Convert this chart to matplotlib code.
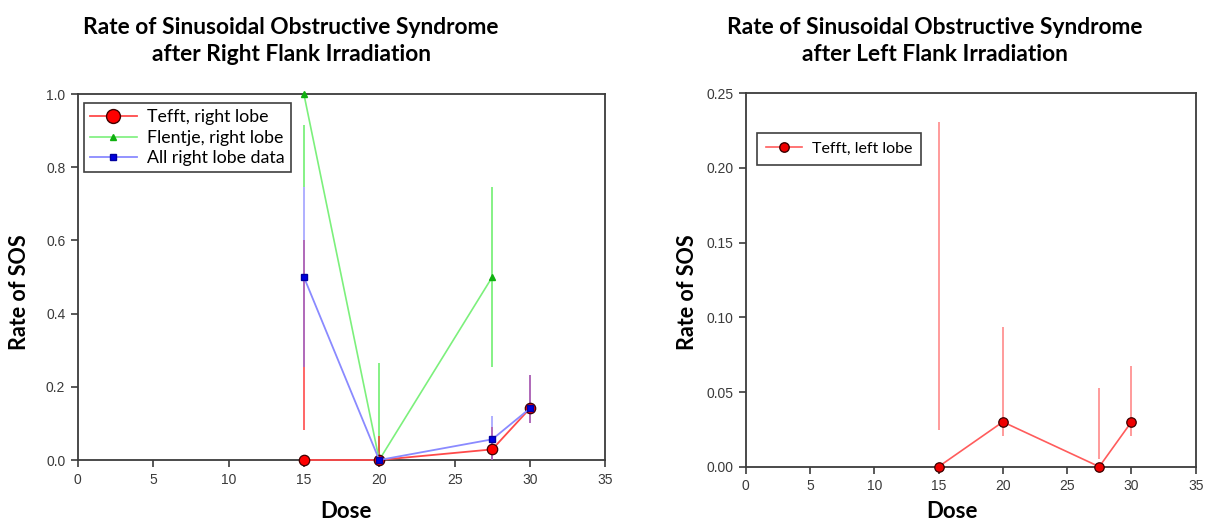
import matplotlib
matplotlib.use("Agg")
import matplotlib.pyplot as plt
from matplotlib.lines import Line2D

# ---------------- data ----------------
dose = [15, 20, 27.5, 30]

# Right flank irradiation
tefft_right = [0.0, 0.0, 0.029, 0.141]
tefft_right_lo = [0.082, 0.0, 0.0, 0.100]
tefft_right_hi = [0.600, 0.066, 0.091, 0.232]

flentje_right = [1.0, 0.0, 0.50]
flentje_dose = [15, 20, 27.5]
flentje_right_lo = [0.747, 0.0, 0.255]
flentje_right_hi = [0.915, 0.265, 0.747]

all_right = [0.50, 0.0, 0.0565, 0.141]
all_right_lo = [0.255, 0.0, 0.0, 0.100]
all_right_hi = [0.747, 0.0, 0.120, 0.232]

# Left flank irradiation
tefft_left = [0.0, 0.030, 0.0, 0.030]
tefft_left_lo = [0.0246, 0.0206, 0.005, 0.0206]
tefft_left_hi = [0.231, 0.0937, 0.0525, 0.0674]

x_ticks = [0, 5, 10, 15, 20, 25, 30, 35]
left_yticks = [0.0, 0.2, 0.4, 0.6, 0.8, 1.0]
right_yticks = [0.00, 0.05, 0.10, 0.15, 0.20, 0.25]

titles = ["Rate of Sinusoidal Obstructive Syndrome\nafter Right Flank Irradiation",
          "Rate of Sinusoidal Obstructive Syndrome\nafter Left Flank Irradiation"]

# ---------------- styling ----------------
TITLE_FONT = "Lato"
TICK_FONT = "Liberation Sans"
SPINE = "#3c3c3c"
RED_LINE = "#ff4a4a"
RED_ERR = "#ff3030"
GREEN_LINE = "#7cf07c"
BLUE_LINE = "#8a8aff"
BLUE_ERR = "#7070ff"

fig = plt.figure(figsize=(12.26, 5.25), dpi=100)
ax1 = fig.add_axes([77.8 / 1226, 65 / 525, 527.5 / 1226, 366 / 525])
ax2 = fig.add_axes([745.7 / 1226, 58.3 / 525, 450 / 1226, 373.4 / 525])


def style_axes(ax, yticks, yfmt):
    ax.set_xlim(0, 35)
    ax.set_ylim(yticks[0], yticks[-1])
    ax.set_xticks(x_ticks)
    ax.set_yticks(yticks)
    ax.set_yticklabels([yfmt.format(v) for v in yticks])
    for s in ax.spines.values():
        s.set_color(SPINE)
        s.set_linewidth(1.3)
    ax.tick_params(direction="out", length=5, width=1.2, color=SPINE,
                   labelsize=10, labelcolor="#3a3a3a", pad=4)
    for lab in ax.get_xticklabels() + ax.get_yticklabels():
        lab.set_fontfamily(TICK_FONT)


# ---- left panel ----
style_axes(ax1, left_yticks, "{:.1f}")
ax1.vlines(flentje_dose, flentje_right_lo, flentje_right_hi, color=GREEN_LINE, lw=1.3, zorder=2)
ax1.vlines(dose, tefft_right_lo, tefft_right_hi, color=RED_ERR, lw=1.3, alpha=0.8, zorder=3)
ax1.vlines(dose, all_right_lo, all_right_hi, color=BLUE_ERR, lw=1.3, alpha=0.6, zorder=3)

ax1.plot(flentje_dose, flentje_right, color=GREEN_LINE, lw=1.2, marker="^", ms=4.5,
         mfc="#10b010", mec="#10b010", zorder=4, clip_on=False)
ax1.plot(dose, tefft_right, color=RED_LINE, lw=1.3, marker="o", ms=7.5,
         mfc="#ff0000", mec="#400000", mew=0.9, zorder=5, clip_on=False)
ax1.plot(dose, all_right, color=BLUE_LINE, lw=1.3, marker="s", ms=4.2,
         mfc="#0000e0", mec="#0000a0", zorder=6, clip_on=False)

h_t = Line2D([], [], color=RED_LINE, lw=1.3, marker="o", ms=10, mfc="#ff0000", mec="#400000")
h_f = Line2D([], [], color=GREEN_LINE, lw=1.2, marker="^", ms=4.5, mfc="#10b010", mec="#10b010")
h_a = Line2D([], [], color=BLUE_LINE, lw=1.3, marker="s", ms=5, mfc="#0000e0", mec="#0000a0")
leg1 = ax1.legend([h_t, h_f, h_a], ["Tefft, right lobe", "Flentje, right lobe", "All right lobe data"],
                  loc="upper left", bbox_to_anchor=(0.012, 0.975), borderaxespad=0,
                  fancybox=False, edgecolor="#404040", framealpha=1, handlelength=2.6,
                  handletextpad=0.6, borderpad=0.35, labelspacing=0.25,
                  prop={"family": TITLE_FONT, "size": 12.8})
leg1.get_frame().set_linewidth(1.2)

# ---- right panel ----
style_axes(ax2, right_yticks, "{:.2f}")
ax2.vlines(dose, tefft_left_lo, tefft_left_hi, color="#ff8080", lw=1.1, zorder=2)
ax2.plot(dose, tefft_left, color="#ff5c5c", lw=1.2, marker="o", ms=6.8,
         mfc="#ee0000", mec="#3a0000", mew=0.9, zorder=4, clip_on=False)
h_l = Line2D([], [], color="#ff5c5c", lw=1.2, marker="o", ms=6.8, mfc="#ee0000", mec="#3a0000")
leg2 = ax2.legend([h_l], ["Tefft, left lobe"], loc="upper left", bbox_to_anchor=(0.025, 0.894),
                  borderaxespad=0, fancybox=False, edgecolor="#404040", framealpha=1,
                  handlelength=2.3, handletextpad=0.6, borderpad=0.55,
                  prop={"family": TITLE_FONT, "size": 11.5})
leg2.get_frame().set_linewidth(1.2)

# ---- texts ----
fig.text(291 / 1226, 1 - 41 / 525, titles[0], ha="center", va="center", family=TITLE_FONT,
         weight="bold", fontsize=16.4, linespacing=1.35)
fig.text(935 / 1226, 1 - 41 / 525, titles[1], ha="center", va="center", family=TITLE_FONT,
         weight="bold", fontsize=16.4, linespacing=1.35)
fig.text(20 / 1226, 1 - 292 / 525, "Rate of SOS", rotation=90, ha="center", va="center",
         family=TITLE_FONT, weight="bold", fontsize=15.5)
fig.text(688 / 1226, 1 - 292 / 525, "Rate of SOS", rotation=90, ha="center", va="center",
         family=TITLE_FONT, weight="bold", fontsize=15.5)
fig.text(346 / 1226, 1 - 512 / 525, "Dose", ha="center", va="center",
         family=TITLE_FONT, weight="bold", fontsize=16)
fig.text(952 / 1226, 1 - 512 / 525, "Dose", ha="center", va="center",
         family=TITLE_FONT, weight="bold", fontsize=16)

fig.savefig("out.png", dpi=100)
